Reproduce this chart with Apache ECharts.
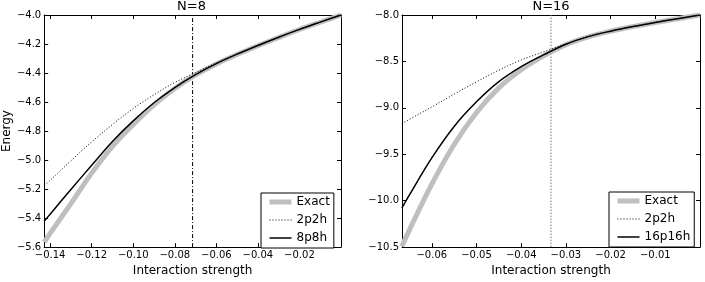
<!DOCTYPE html>
<html><head><meta charset="utf-8">
<script src="https://cdn.jsdelivr.net/npm/echarts@6/dist/echarts.min.js"></script>
<style>html,body{margin:0;padding:0;background:#fff}#c{width:705px;height:282px}</style>
</head><body><div id="c"></div>
<script>
// ---- data ----
const panelTitles = ['N=8', 'N=16'];
const legendNames = ['Exact', '2p2h', '8p8h', '16p16h'];

const gN8 = [-0.1428, -0.14, -0.13, -0.12, -0.11, -0.10, -0.09, -0.08, -0.07, -0.06, -0.05, -0.04, -0.03, -0.02, -0.01, 0];
const exactN8 = [-5.565, -5.505, -5.30, -5.09, -4.905, -4.755, -4.62, -4.506, -4.413, -4.337, -4.272, -4.212, -4.155, -4.10, -4.05, -4.0];
const p2h2N8 = [-5.176, -5.14, -5.005, -4.875, -4.755, -4.645, -4.55, -4.465, -4.397, -4.33, -4.268, -4.209, -4.154, -4.10, -4.05, -4.0];
const p8h8N8 = [-5.421, -5.373, -5.203, -5.036, -4.872, -4.730, -4.605, -4.500, -4.411, -4.335, -4.270, -4.210, -4.153, -4.099, -4.049, -4.0];

const gN16 = [-0.0667, -0.065, -0.06, -0.055, -0.05, -0.045, -0.04, -0.035, -0.03, -0.025, -0.02, -0.015, -0.01, -0.005, 0];
const exactN16 = [-10.49, -10.314, -9.822, -9.395, -9.05, -8.785, -8.59, -8.44, -8.32, -8.235, -8.175, -8.125, -8.08, -8.04, -8.0];
const p2h2N16 = [-9.17, -9.124, -8.99, -8.852, -8.72, -8.594, -8.484, -8.398, -8.31, -8.232, -8.173, -8.124, -8.079, -8.039, -8.0];
const p16h16N16 = [-10.079, -9.937, -9.539, -9.20, -8.935, -8.718, -8.556, -8.43, -8.315, -8.233, -8.174, -8.124, -8.08, -8.04, -8.0];

const xRangeN8 = [-1 / 7, 0];
const xRangeN16 = [-1 / 15, 0];
const xTicksN8 = [-0.14, -0.12, -0.10, -0.08, -0.06, -0.04, -0.02];
const xTicksN16 = [-0.06, -0.05, -0.04, -0.03, -0.02, -0.01];
const yRangeN8 = [-5.6, -4.0], yStepN8 = 0.2;
const yRangeN16 = [-10.5, -8.0], yStepN16 = 0.5;
const refLineX = [-1 / 14, -1 / 30];

// ---- chart ----
const FONT = 'DejaVu Sans';
const fmt = (v, d) => v.toFixed(d).replace('-', '\u2212');
const pairs = (xs, ys) => xs.map((x, i) => [x, ys[i]]);

function xAxis(grid, pos, range, ticks, showLabel, name) {
  return {
    type: 'value', gridIndex: grid, position: pos, min: range[0], max: range[1],
    axisLine: { show: true, onZero: false, lineStyle: { color: '#000', width: 1 } },
    axisTick: { show: true, inside: true, length: 4, customValues: ticks, lineStyle: { color: '#000' } },
    axisLabel: { show: showLabel, customValues: ticks, margin: 3, color: '#000', fontFamily: FONT, fontSize: 10,
      formatter: v => fmt(v, 2) },
    splitLine: { show: false },
    name: name || '', nameLocation: 'middle', nameGap: 10,
    nameTextStyle: { color: '#000', fontFamily: FONT, fontSize: 12 }
  };
}
function yAxis(grid, pos, range, step, showLabel, name) {
  return {
    type: 'value', gridIndex: grid, position: pos, min: range[0], max: range[1], interval: step,
    axisLine: { show: true, onZero: false, lineStyle: { color: '#000', width: 1 } },
    axisTick: { show: true, inside: true, length: 4, lineStyle: { color: '#000' } },
    axisLabel: { show: showLabel, margin: 3, color: '#000', fontFamily: FONT, fontSize: 10,
      showMinLabel: true, showMaxLabel: true, formatter: v => fmt(v, 1) },
    splitLine: { show: false },
    name: name || '', nameLocation: 'middle', nameGap: 25,
    nameTextStyle: { color: '#000', fontFamily: FONT, fontSize: 12 }
  };
}

const exactStyle = { color: '#bfbfbf', width: 5 };
const dotStyle = { color: '#000', width: 1, type: [1, 2] };
const solidStyle = { color: '#000', width: 1.5 };

function line(name, axis, data, style, z) {
  return {
    type: 'line', name: name, xAxisIndex: axis, yAxisIndex: axis, data: data,
    symbol: 'none', showSymbol: false, smooth: 0.35, color: style.color,
    lineStyle: style, clip: true, silent: true, z: z || 2
  };
}

const legendBase = {
  orient: 'vertical', backgroundColor: '#fff', borderColor: '#000', borderWidth: 1, borderRadius: 0,
  itemWidth: 22, itemHeight: 12, itemGap: 6,
  itemStyle: { opacity: 0, borderWidth: 0 },
  textStyle: { color: '#000', fontFamily: FONT, fontSize: 12 }, selectedMode: false, z: 10
};
const legendItem = (name, style) => ({ name: name, lineStyle: { width: style.width, color: style.color, type: style.type || 'solid' } });

const option = {
  animation: false,
  backgroundColor: '#fff',
  title: [
    { text: panelTitles[0], left: 191.5, top: 0, padding: 0, textAlign: 'center',
      textStyle: { color: '#000', fontFamily: FONT, fontSize: 13, fontWeight: 'normal' } },
    { text: panelTitles[1], left: 551, top: 0, padding: 0, textAlign: 'center',
      textStyle: { color: '#000', fontFamily: FONT, fontSize: 13, fontWeight: 'normal' } }
  ],
  grid: [
    { left: 42, top: 15, width: 299, height: 239 },
    { left: 402, top: 15, width: 298, height: 239 }
  ],
  xAxis: [
    xAxis(0, 'bottom', xRangeN8, xTicksN8, true, 'Interaction strength'),
    xAxis(0, 'top', xRangeN8, xTicksN8, false),
    xAxis(1, 'bottom', xRangeN16, xTicksN16, true, 'Interaction strength'),
    xAxis(1, 'top', xRangeN16, xTicksN16, false)
  ],
  yAxis: [
    yAxis(0, 'left', yRangeN8, yStepN8, true, 'Energy'),
    yAxis(0, 'right', yRangeN8, yStepN8, false),
    yAxis(1, 'left', yRangeN16, yStepN16, true),
    yAxis(1, 'right', yRangeN16, yStepN16, false)
  ],
  legend: [
    Object.assign({}, legendBase, { left: 261, top: 193, padding: [3, 4, 4, 6], itemTextGap: 12,
      data: [legendItem(legendNames[0], exactStyle), legendItem(legendNames[1], dotStyle), legendItem(legendNames[2], solidStyle)] }),
    Object.assign({}, legendBase, { left: 609, top: 192, padding: [3, 4, 4, 6], itemTextGap: 11,
      data: [legendItem(legendNames[0], exactStyle), legendItem(legendNames[1], dotStyle), legendItem(legendNames[3], solidStyle)] })
  ],
  series: [
    line('ref8', 0, [[refLineX[0], yRangeN8[0]], [refLineX[0], yRangeN8[1]]], { color: '#000', width: 1, type: [4, 2, 1, 2] }, 1),
    line(legendNames[0], 0, pairs(gN8, exactN8), exactStyle),
    line(legendNames[1], 0, pairs(gN8, p2h2N8), dotStyle),
    line(legendNames[2], 0, pairs(gN8, p8h8N8), solidStyle),
    line('ref16', 2, [[refLineX[1], yRangeN16[0]], [refLineX[1], yRangeN16[1]]], { color: '#777', width: 1, type: [1.5, 1.5] }, 1),
    line(legendNames[0], 2, pairs(gN16, exactN16), exactStyle),
    line(legendNames[1], 2, pairs(gN16, p2h2N16), dotStyle),
    line(legendNames[3], 2, pairs(gN16, p16h16N16), solidStyle)
  ]
};
option.series[0].smooth = false;
option.series[4].smooth = false;
const chart = echarts.init(document.getElementById('c'), null, { renderer: 'canvas' });
chart.setOption(option);
</script>
</body></html>
